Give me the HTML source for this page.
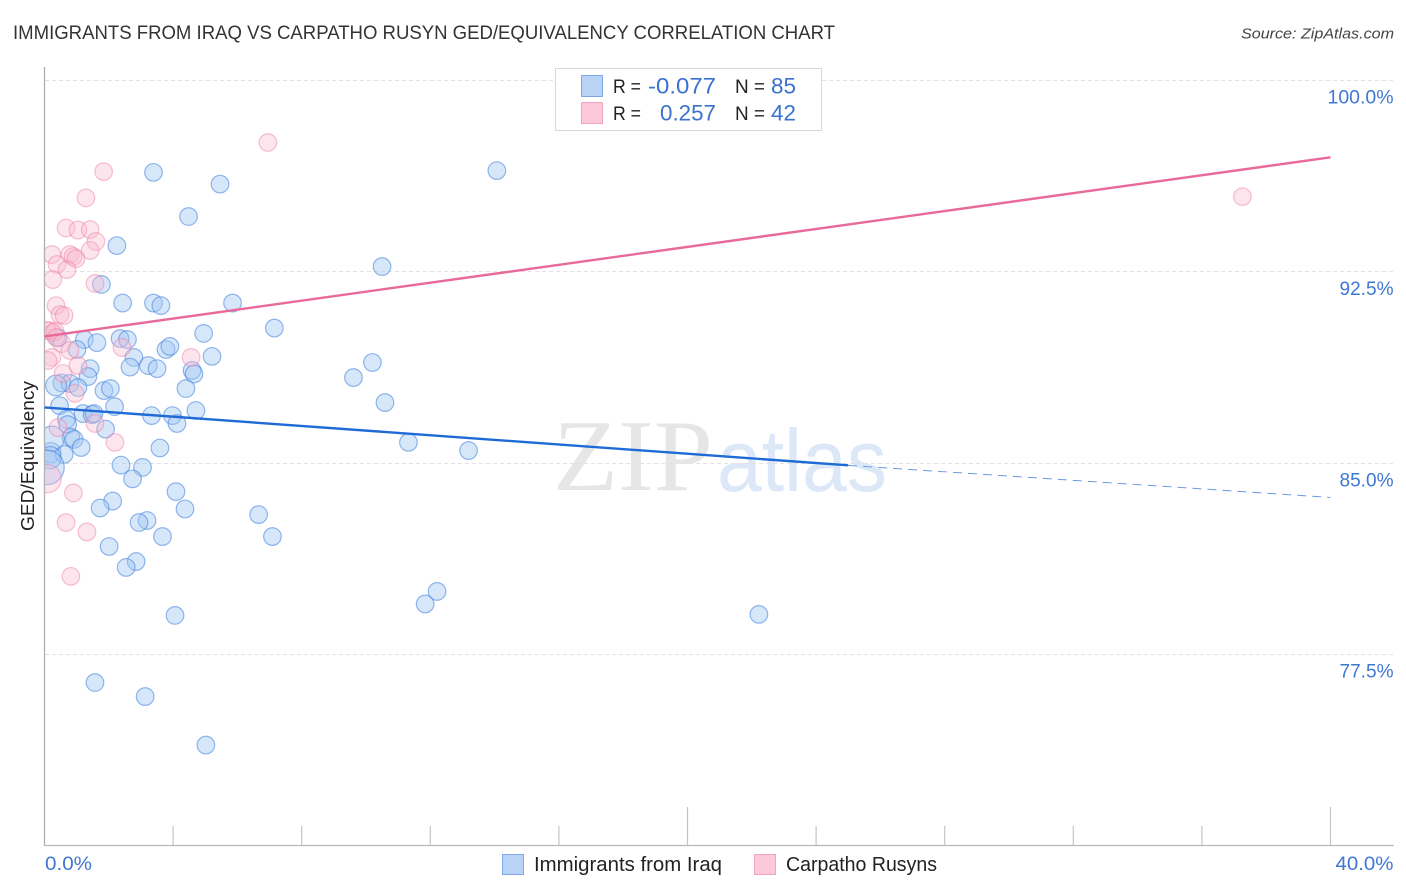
<!DOCTYPE html>
<html lang="en">
<head>
<meta charset="utf-8">
<title>Immigrants from Iraq vs Carpatho Rusyn GED/Equivalency Correlation Chart</title>
<style>
html,body{margin:0;padding:0;background:#fff;width:1406px;height:892px;overflow:hidden}
svg{display:block;font-family:"Liberation Sans",sans-serif}
</style>
</head>
<body>
<svg id="chart" xmlns="http://www.w3.org/2000/svg" width="1406" height="892" viewBox="0 0 1406 892">
  <defs><clipPath id="plot-clip"><rect x="45" y="60" width="1349" height="785"/></clipPath></defs>
  <text x="13" y="39" font-size="19" fill="#333" textLength="822" lengthAdjust="spacingAndGlyphs">IMMIGRANTS FROM IRAQ VS CARPATHO RUSYN GED/EQUIVALENCY CORRELATION CHART</text>
  <text x="1394" y="38.5" font-size="15" font-style="italic" fill="#444" text-anchor="end" textLength="153" lengthAdjust="spacingAndGlyphs">Source: ZipAtlas.com</text>
  <g>
    <text x="553" y="490" font-family="'Liberation Serif',serif" font-size="102" fill="#e6e6e6" textLength="160" lengthAdjust="spacingAndGlyphs">ZIP</text>
    <text x="717" y="491" font-size="88" fill="#dce8f8" textLength="170" lengthAdjust="spacingAndGlyphs">atlas</text>
  </g>
  <g id="grid"></g>
  <g id="axes"></g>
  <g id="points" clip-path="url(#plot-clip)"></g>
  <g id="trends"></g>
  <text transform="translate(34,456) rotate(-90)" font-size="18.5" fill="#222" text-anchor="middle" textLength="150" lengthAdjust="spacingAndGlyphs">GED/Equivalency</text>

  <g>
    <rect x="555.5" y="68.5" width="266" height="62" fill="#fff" stroke="#d8d8d8"/>
    <rect x="581.5" y="75.5" width="21" height="21" fill="#b8d3f6" stroke="#7fa9e6"/>
    <rect x="581.5" y="102.5" width="21" height="21" fill="#fcc8da" stroke="#f2a3bd"/>
    <text x="613" y="93" font-size="19" fill="#222" textLength="28" lengthAdjust="spacingAndGlyphs">R =</text>
    <text x="648" y="93.5" font-size="22" fill="#3a72d0" textLength="68" lengthAdjust="spacingAndGlyphs">-0.077</text>
    <text x="735" y="93" font-size="19" fill="#222" textLength="30" lengthAdjust="spacingAndGlyphs">N =</text>
    <text x="771" y="93.5" font-size="22" fill="#3a72d0" textLength="25" lengthAdjust="spacingAndGlyphs">85</text>
    <text x="613" y="120" font-size="19" fill="#222" textLength="28" lengthAdjust="spacingAndGlyphs">R =</text>
    <text x="660" y="120.5" font-size="22" fill="#3a72d0" textLength="56" lengthAdjust="spacingAndGlyphs">0.257</text>
    <text x="735" y="120" font-size="19" fill="#222" textLength="30" lengthAdjust="spacingAndGlyphs">N =</text>
    <text x="771" y="120.5" font-size="22" fill="#3a72d0" textLength="25" lengthAdjust="spacingAndGlyphs">42</text>
  </g>

  <g>
    <rect x="502.5" y="854.5" width="21" height="20" fill="#b8d3f6" stroke="#7fa9e6"/>
    <text x="534" y="871" font-size="20" fill="#222" textLength="188" lengthAdjust="spacingAndGlyphs">Immigrants from Iraq</text>
    <rect x="754.5" y="854.5" width="21" height="20" fill="#fcc8da" stroke="#f2a3bd"/>
    <text x="786" y="871" font-size="20" fill="#222" textLength="151" lengthAdjust="spacingAndGlyphs">Carpatho Rusyns</text>
  </g>
</svg>
<script>
const yTicks = [100, 92.5, 85, 77.5];
const yTickLabels = ["100.0%", "92.5%", "85.0%", "77.5%"];
const xTicks = [4, 8, 12, 16, 20, 24, 28, 32, 36, 40];
const xMajorTicks = [20, 40];
const xEndLabels = ["0.0%", "40.0%"];

const iraqX = [3.39,5.46,14.07,4.48,2.25,10.50,1.77,2.43,3.39,3.62,5.85,7.15,4.95,1.24,2.35,2.58,1.63,1.01,3.78,3.90,5.21,2.78,3.23,2.66,3.50,1.42,4.59,4.65,10.20,9.61,1.35,0.54,0.79,0.36,1.04,1.85,2.05,4.40,10.59,0.47,2.18,4.71,1.20,1.48,1.54,3.33,3.98,4.12,0.68,0.72,1.90,0.82,0.92,1.14,3.59,11.32,13.19,0.20,0.61,2.38,3.05,2.74,4.09,2.12,1.73,4.37,6.66,3.19,2.94,7.09,3.67,2.01,2.85,2.54,12.21,11.84,22.22,4.06,1.57,3.13,5.02,0.23,0.17,0.08,0.42];
const iraqY = [96.38,95.92,96.45,94.65,93.51,92.69,91.99,91.26,91.26,91.16,91.26,90.28,90.07,89.83,89.87,89.83,89.71,89.44,89.44,89.56,89.17,89.13,88.81,88.75,88.69,88.69,88.62,88.48,88.93,88.34,88.38,88.13,88.11,88.03,87.95,87.83,87.91,87.91,87.36,87.24,87.20,87.05,86.93,86.89,86.93,86.85,86.85,86.54,86.70,86.50,86.32,86.00,85.92,85.60,85.58,85.80,85.48,85.40,85.33,84.91,84.82,84.37,83.87,83.50,83.23,83.19,82.97,82.74,82.66,82.11,82.11,81.72,81.13,80.90,79.96,79.47,79.06,79.02,76.39,75.84,73.94,85.95,85.20,84.82,89.90];
const iraqWeight = [1,1,1,1,1,1,1,1,1,1,1,1,1,1,1,1,1,1,1,1,1,1,1,1,1,1,1,1,1,1,1,1,1,1.4,1,1,1,1,1,1,1,1,1,1,1,1,1,1,1,1,1,1,1,1,1,1,1,1.3,1,1,1,1,1,1,1,1,1,1,1,1,1,1,1,1,1,1,1,1,1,1,1,2,1.6,3.8,1];

const carpathoX = [6.95,1.84,1.29,37.26,0.67,1.04,1.42,1.60,1.42,0.23,0.79,0.89,0.98,0.39,0.70,0.26,1.57,0.36,0.48,0.61,0.17,0.26,0.08,0.33,0.36,0.54,2.41,0.79,4.56,0.23,0.11,0.58,1.04,0.95,1.57,0.42,2.19,0.08,0.90,0.67,1.32,0.82];
const carpathoY = [97.55,96.41,95.38,95.43,94.20,94.12,94.14,93.67,93.32,93.16,93.16,93.08,93.00,92.77,92.57,92.18,92.03,91.16,90.81,90.77,90.18,90.10,90.18,90.15,89.91,89.67,89.52,89.40,89.13,89.13,89.01,88.50,88.81,87.72,86.54,86.38,85.80,84.38,83.82,82.66,82.29,80.55];
const carpathoWeight = [1,1,1,1,1,1,1,1,1,1,1,1,1,1,1,1,1,1,1,1,1,1,1,1,1,1,1,1,1,1,1,1,1,1,1,1,1,2.6,1,1,1,1];

const iraqTrendX = [0, 25];
const iraqTrendY = [87.17, 84.90];
const iraqDashX = [25, 40];
const iraqDashY = [84.90, 83.64];
const carpathoTrendX = [0, 40];
const carpathoTrendY = [89.95, 96.97];

const NS = "http://www.w3.org/2000/svg";
const xScale = v => 44.5 + v * 32.15;
const yScale = v => 80 + (100 - v) * 25.52;
const radius = w => 8.8 * Math.sqrt(w);

function make(tag, parent, attrs) {
  const el = document.createElementNS(NS, tag);
  for (const k in attrs) el.setAttribute(k, attrs[k]);
  parent.appendChild(el);
  return el;
}

const grid = document.getElementById("grid");
const axes = document.getElementById("axes");
const points = document.getElementById("points");
const trends = document.getElementById("trends");

yTicks.forEach((t, i) => {
  const line = make("line", grid, {x1: 45, x2: 1394, y1: Math.round(yScale(t)) + 0.5, y2: Math.round(yScale(t)) + 0.5, stroke: "#e2e2e2", "stroke-width": 1, "stroke-dasharray": "4 3"});
  
  
  const label = make("text", axes, {x: 1393.5, y: yScale(t) + 23.5, "font-size": 19, fill: "#3f77d4", "text-anchor": "end", textLength: yTickLabels[i].length > 5 ? 66 : 54, lengthAdjust: "spacingAndGlyphs"});
  label.textContent = yTickLabels[i];
  
  
});

const yAxisLine = make("line", axes, {x1: 44.5, x2: 44.5, y1: 67, y2: 846, stroke: "#b0b0b0", "stroke-width": 1.3});


const xAxisLine = make("line", axes, {x1: 44, x2: 1394, y1: 845.5, y2: 845.5, stroke: "#b8b8b8", "stroke-width": 1.3});



xTicks.forEach(t => {
  const tick = make("line", axes, {x1: xScale(t), x2: xScale(t), y1: xMajorTicks.includes(t) ? 807 : 826, y2: 845, stroke: "#c4c4c4", "stroke-width": 1.2});
  
  
});

const xLabelLeft = make("text", axes, {x: 45, y: 870, "font-size": 19, fill: "#3f77d4", textLength: 47, lengthAdjust: "spacingAndGlyphs"});
xLabelLeft.textContent = xEndLabels[0];


const xLabelRight = make("text", axes, {x: 1393.5, y: 870, "font-size": 19, fill: "#3f77d4", "text-anchor": "end", textLength: 58, lengthAdjust: "spacingAndGlyphs"});
xLabelRight.textContent = xEndLabels[1];



iraqX.forEach((x, i) => {
  const c = make("circle", points, {cx: xScale(x), cy: yScale(iraqY[i]), r: radius(iraqWeight[i]), fill: "rgba(160,198,244,0.42)", stroke: "rgba(62,128,220,0.55)", "stroke-width": 1.2});
  
  
});
carpathoX.forEach((x, i) => {
  const c = make("circle", points, {cx: xScale(x), cy: yScale(carpathoY[i]), r: radius(carpathoWeight[i]), fill: "rgba(250,186,208,0.38)", stroke: "rgba(236,120,160,0.45)", "stroke-width": 1.2});
  
  
});

const iraqLine = make("line", trends, {x1: xScale(iraqTrendX[0]), y1: yScale(iraqTrendY[0]), x2: xScale(iraqTrendX[1]), y2: yScale(iraqTrendY[1]), stroke: "#1f6bd6", "stroke-width": 2.4});


const iraqDash = make("line", trends, {x1: xScale(iraqDashX[0]), y1: yScale(iraqDashY[0]), x2: xScale(iraqDashX[1]), y2: yScale(iraqDashY[1]), stroke: "#6a9ae0", "stroke-width": 1, "stroke-dasharray": "9 6"});


const carpathoLine = make("line", trends, {x1: xScale(carpathoTrendX[0]), y1: yScale(carpathoTrendY[0]), x2: xScale(carpathoTrendX[1]), y2: yScale(carpathoTrendY[1]), stroke: "#e8699a", "stroke-width": 2.4});


</script>
</body>
</html>
